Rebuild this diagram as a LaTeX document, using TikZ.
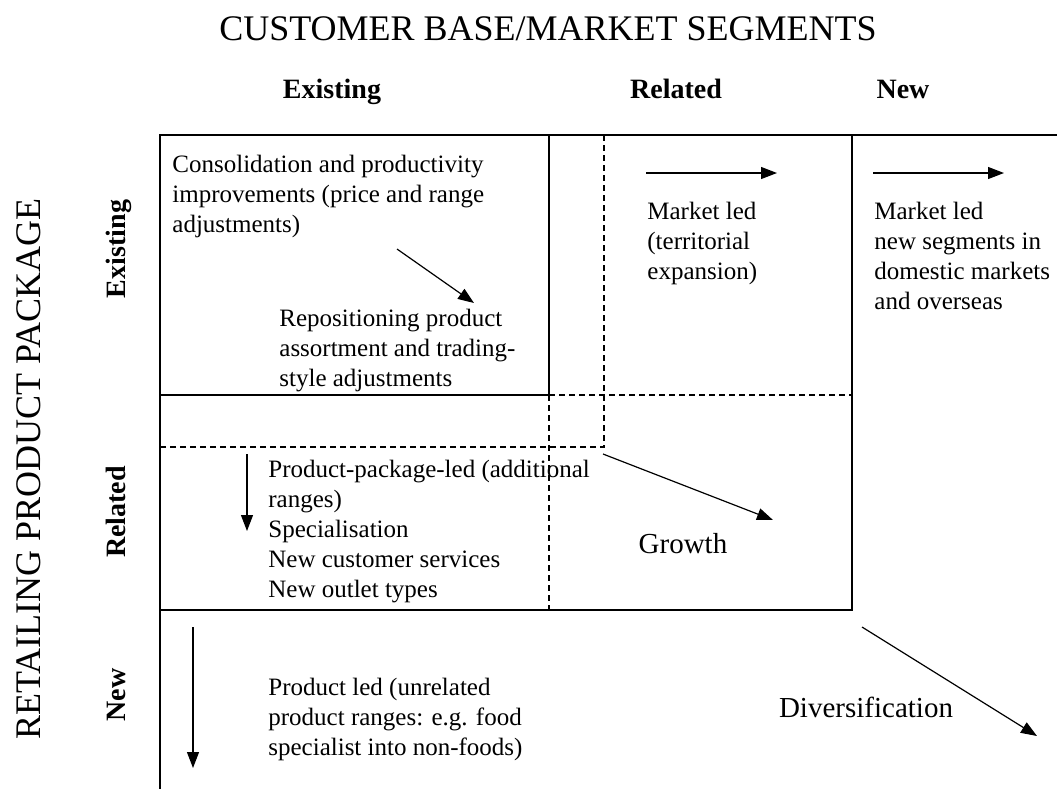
\documentclass[tikz,border=0pt]{standalone}
\usepackage{fontspec}
\setmainfont{Liberation Serif}
\usetikzlibrary{arrows.meta}

\tikzset{
  cell/.style={anchor=north west, inner sep=0, align=left, font=\fontsize{12.5}{15}\selectfont},
  head/.style={anchor=base, inner sep=0, font=\fontsize{14}{16}\selectfont\bfseries},
  side/.style={head, rotate=90},
  big/.style={anchor=base, inner sep=0, font=\fontsize{18}{20}\selectfont},
  tag/.style={inner sep=0, font=\fontsize{14.5}{16}\selectfont},
  move/.style={-{Triangle[length=8pt,width=6pt]}, line width=0.6pt},
  rule/.style={line width=0.7pt},
  cut/.style={line width=0.6pt, dash pattern=on 3pt off 2pt}
}

\begin{document}
\begin{tikzpicture}[x=0.5pt,y=-0.5pt]
\useasboundingbox (0,0) rectangle (1057,789);

\draw[rule] (1057,135) -- (160,135) -- (160,789);
\draw[rule] (160,395) -- (549,395) -- (549,135);
\draw[rule] (852,135) -- (852,610) -- (160,610);

\draw[cut] (549,395) -- (852,395);
\draw[cut] (549,395) -- (549,610);
\draw[cut] (604,135) -- (604,447) -- (160,447);

\node[big] (title) at (548,40) {CUSTOMER BASE/MARKET SEGMENTS};
\node[head] (colold) at (332,98) {Existing};
\node[head] (colrel) at (676,98) {Related};
\node[head] (colnew) at (903,98) {New};

\node[big, rotate=90] (package) at (40,469) {RETAILING PRODUCT PACKAGE};
\node[side] (rowold) at (126,249) {Existing};
\node[side] (rowrel) at (126,512) {Related};
\node[side] (rownew) at (126,695) {New};

\node[cell] (consol) at (172,155) {Consolidation and productivity\\improvements (price and range\\adjustments)};
\node[cell] (repos) at (279,309) {Repositioning product\\assortment and trading-\\style adjustments};
\node[cell] (terr) at (647,202) {Market led\\(territorial\\expansion)};
\node[cell] (segm) at (874,202) {Market led\\new segments in\\domestic markets\\and overseas};
\node[cell] (range) at (268,460) {Product-package-led (additional\\ranges)\\Specialisation\\New customer services\\New outlet types};
\node[cell] (unrel) at (268,678) {Product led (unrelated\\product ranges: e.g. food\\specialist into non-foods)};
\node[tag] (growth) at (683,544) {Growth};
\node[tag] (divers) at (866,707) {Diversification};

\coordinate (consolA) at (397,249);
\coordinate (consolB) at (474,303);
\coordinate (terrA) at (646,173);
\coordinate (terrB) at (777,173);
\coordinate (segmA) at (873,173);
\coordinate (segmB) at (1004,173);
\coordinate (growthA) at (603,454);
\coordinate (growthB) at (773,520);
\coordinate (rangeA) at (247,454);
\coordinate (rangeB) at (247,531);
\coordinate (unrelA) at (193,627);
\coordinate (unrelB) at (193,768);
\coordinate (diversA) at (862,627);
\coordinate (diversB) at (1037,736);

\draw[move] (consolA) -- (consolB);
\draw[move] (terrA) -- (terrB);
\draw[move] (segmA) -- (segmB);
\draw[move] (growthA) -- (growthB);
\draw[move] (rangeA) -- (rangeB);
\draw[move] (unrelA) -- (unrelB);
\draw[move] (diversA) -- (diversB);
\end{tikzpicture}
\end{document}
